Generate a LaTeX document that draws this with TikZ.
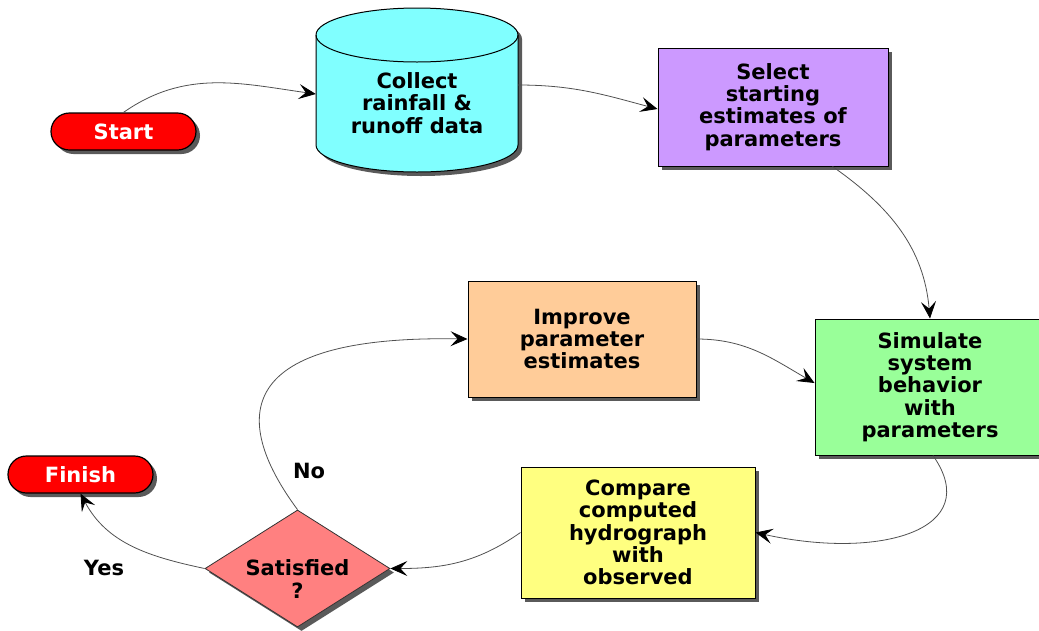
\documentclass[tikz,border=0pt]{standalone}
\usepackage{fontspec}
\setmainfont{DejaVu Sans}
\usetikzlibrary{shapes.geometric,shadows,arrows.meta}
\definecolor{cyanfill}{HTML}{80FFFF}
\definecolor{purplefill}{HTML}{CC99FF}
\definecolor{greenfill}{HTML}{99FF99}
\definecolor{orangefill}{HTML}{FFCC99}
\definecolor{yellowfill}{HTML}{FFFF80}
\definecolor{pinkfill}{HTML}{FF8080}
\definecolor{shadowgray}{HTML}{5A5A5A}
\definecolor{linegray}{HTML}{505050}
\begin{document}
\begin{tikzpicture}[x=1pt,y=1pt,
  every node/.style={font=\fontsize{21}{22.4}\selectfont\bfseries, align=center},
  shad/.style={drop shadow={shadow xshift=4pt,shadow yshift=-4pt,fill=shadowgray,opacity=1}},
  box/.style={draw=black, line width=1pt, rectangle, shad, inner sep=0pt},
  term/.style={draw=black, line width=1.2pt, fill=red, text=white, rounded corners=18.5pt, shad, minimum width=145pt, minimum height=37pt, inner sep=0pt},
  conn/.style={draw=linegray, line width=0.8pt, -{Stealth[length=17pt,width=15pt,inset=7pt,color=black]}},
]
\useasboundingbox (0,0) rectangle (1039,-630);

% Start / Finish
\node[term] (start) at (123.5,-131.5) {Start};
\node[term] (finish) at (80.5,-474.5) {Finish};

% Cylinder
\fill[shadowgray] (320,-39) -- (320,-149) arc (180:360:101 and 27) -- (522,-39) arc (0:180:101 and 27) -- cycle;
\filldraw[fill=cyanfill, draw=black, line width=1pt] (316,-35) -- (316,-145) arc (180:360:101 and 27) -- (518,-35) arc (0:180:101 and 27) -- cycle;
\draw[line width=1pt] (316,-35) arc (180:360:101 and 27);
\node[minimum width=202pt, minimum height=164pt, inner sep=0pt] (collect) at (417,-90) {};
\node (collecttxt) at (417,-103) {Collect\\rainfall \&\\runoff data};

% Boxes
\node[box, fill=purplefill, minimum width=230pt, minimum height=118pt] (select) at (773,-107) {Select\\starting\\estimates of\\parameters};
\node[box, fill=greenfill, minimum width=230pt, minimum height=136pt] (simulate) at (930,-387) {Simulate\\system\\behavior\\with\\parameters};
\node[box, fill=orangefill, minimum width=228pt, minimum height=116pt] (improve) at (582,-339) {Improve\\parameter\\estimates};
\node[box, fill=yellowfill, minimum width=234pt, minimum height=131pt] (compare) at (638,-532.5) {Compare\\computed\\hydrograph\\with\\observed};

% Decision
\node[diamond, fill=pinkfill, draw=black!80, line width=0.8pt, shad, aspect=1.58, minimum width=185pt, minimum height=117pt, inner sep=0pt] (sat) at (297.5,-568.5) {};
\node (sattxt) at (297.5,-579) {Satisfied\\?};

% Labels
\node (no) at (309,-471) {No};
\node (yes) at (104,-568) {Yes};

% Connectors
\draw[conn] (start.north) to[out=35,in=172] ([yshift=-4pt]collect.west);
\draw[conn] ([yshift=5pt]collect.east) to[out=0,in=165] ([yshift=-2pt]select.west);
\draw[conn] (select.-45) to[out=-35,in=95] (simulate.north);
\draw[conn] ([xshift=3pt]simulate.south) .. controls (985,-530) and (880,-560) .. (compare.east);
\draw[conn] (compare.west) to[out=-145,in=0] (sat.east);
\draw[conn] (sat.north) .. controls (235,-425) and (225,-335) .. (improve.west);
\draw[conn] (sat.west) to[out=168,in=-62] (finish.south);
\draw[conn] (improve.east) to[out=0,in=150] ([yshift=4pt]simulate.west);
\end{tikzpicture}
\end{document}
